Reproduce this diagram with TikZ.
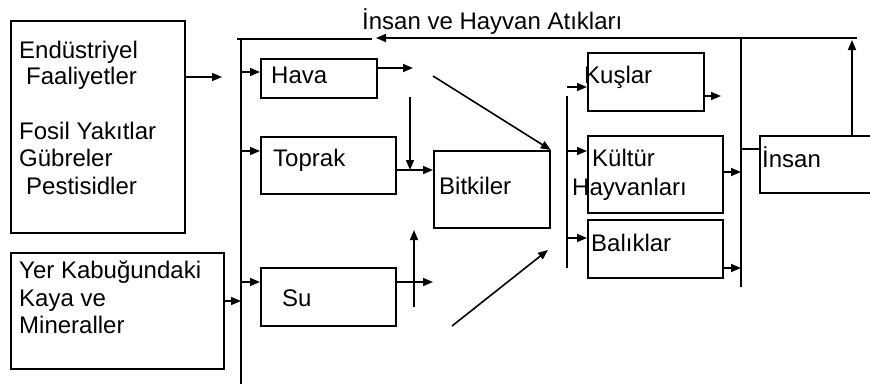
\documentclass[tikz,border=0pt]{standalone}
\usepackage{fontspec}
\setmainfont{Liberation Sans}
\usetikzlibrary{arrows.meta}
\begin{document}
\begin{tikzpicture}[x=1pt,y=-1pt,
  box/.style={draw,line width=1.8pt,inner sep=0pt,anchor=north west},
  lbl/.style={inner sep=0pt,anchor=base west,font=\fontsize{24}{28}\selectfont},
  arr/.style={line width=1.6pt,-{Triangle[length=10pt,width=8pt]}},
  bus/.style={line width=2.8pt},
  wire/.style={line width=1.7pt}]
\useasboundingbox (0,0) rectangle (870,383);
\clip (0,0) rectangle (870,383);

% sources
\node[box,minimum width=174pt,minimum height=212pt] (src) at (10,20) {};
\node[box,minimum width=213pt,minimum height=116pt] (yer) at (10,252) {};
\node[lbl] (t1) at (19,58) {Endüstriyel};
\node[lbl] (t2) at (26,84) {Faaliyetler};
\node[lbl] (t3) at (19,139) {Fosil Yakıtlar};
\node[lbl] (t4) at (19,166) {Gübreler};
\node[lbl] (t5) at (26,194) {Pestisidler};
\node[lbl] (t6) at (19,278) {Yer Kabuğundaki};
\node[lbl] (t7) at (19,306) {Kaya ve};
\node[lbl] (t8) at (19,333) {Mineraller};

% environment
\node[box,minimum width=116pt,minimum height=39pt] (hava) at (260,58) {};
\node[box,minimum width=135pt,minimum height=57pt] (toprak) at (260,136) {};
\node[box,minimum width=135pt,minimum height=58pt] (su) at (260,267) {};
\node[lbl] (th) at (271,83) {Hava};
\node[lbl] (tt) at (273,166) {Toprak};
\node[lbl] (ts) at (282,306) {Su};

% plants
\node[box,minimum width=116pt,minimum height=77pt] (bitki) at (433,150) {};
\node[lbl] (tb) at (439,194) {Bitkiler};

% animals
\node[box,minimum width=116pt,minimum height=58pt] (kus) at (587,52) {};
\node[box,minimum width=135pt,minimum height=77pt] (kultur) at (587,135) {};
\node[box,minimum width=135pt,minimum height=58pt] (balik) at (587,219) {};
\node[lbl] (tk) at (584,83) {Kuşlar};
\node[lbl] (tku) at (592,166) {Kültür};
\node[lbl] (thy) at (572,195) {Hayvanları};
\node[lbl] (tbl) at (591,251) {Balıklar};

% human
\node[box,minimum width=130pt,minimum height=57pt] (insan) at (759,135) {};
\node[lbl] (ti) at (762,167) {İnsan};

% waste label
\node[lbl] (title) at (362,29) {İnsan ve Hayvan Atıkları};

% bus coordinates
\coordinate (lbTop) at (241,39);
\coordinate (lbBot) at (241,385);
\coordinate (lbL) at (237,39);
\coordinate (lbR) at (372,39);
\coordinate (abTop) at (567,96);
\coordinate (abBot) at (567,268);
\coordinate (rbTop) at (741,38);
\coordinate (rbBot) at (741,287);
\coordinate (wR) at (857,38);
\coordinate (wTip) at (376,38);

\draw[bus] (lbL) -- (lbR);
\draw[bus] (lbTop) -- (lbBot);
\draw[bus] (abTop) -- (abBot);
\draw[bus] (rbTop) -- (rbBot);
\draw[wire] (rbTop) -- (wR);
\draw[arr] (wR) -- (wTip);

% sources into the left bus
\coordinate (a1) at (222,77);
\draw[arr] (src.east |- a1) -- (a1);
\draw[arr] (yer.east |- 0,301) -- (241,301);

% left bus into environment
\draw[arr] (241,72) -- (hava.west |- 0,72);
\draw[arr] (241,151) -- (toprak.west |- 0,151);
\draw[arr] (241,282) -- (su.west |- 0,282);

% environment to plants
\coordinate (h1) at (413,68);
\draw[arr] (hava.east |- h1) -- (h1);
\coordinate (v1a) at (410,97);
\coordinate (v1b) at (410,170);
\draw[arr] (v1a) -- (v1b);
\draw[arr] (toprak.east |- 0,170) -- (bitki.west |- 0,170);
\coordinate (d1) at (433,76);
\draw[arr] (d1) -- (bitki.north east);
\coordinate (s1) at (433,282);
\draw[arr] (su.east |- s1) -- (s1);
\coordinate (v2a) at (414,307);
\coordinate (v2b) at (414,230);
\draw[arr] (v2a) -- (v2b);
\coordinate (d2a) at (452,326);
\coordinate (d2b) at (548,250);
\draw[arr] (d2a) -- (d2b);

% animal bus into animals
\coordinate (k0) at (567,87);
\draw[arr] (k0) -- (kus.west |- k0);
\draw[arr] (567,151) -- (kultur.west |- 0,151);
\draw[arr] (567,238) -- (balik.west |- 0,238);

% animals to the right bus
\coordinate (k1) at (721,96);
\draw[arr] (kus.east |- k1) -- (k1);
\draw[arr] (kultur.east |- 0,172) -- (741,172);
\draw[arr] (balik.east |- 0,268) -- (741,268);

% right bus to human, and waste back up
\draw[wire] (741,149) -- (insan.west |- 0,149);
\coordinate (up) at (852,40);
\draw[arr] (insan.north -| up) -- (up);
\end{tikzpicture}
\end{document}
